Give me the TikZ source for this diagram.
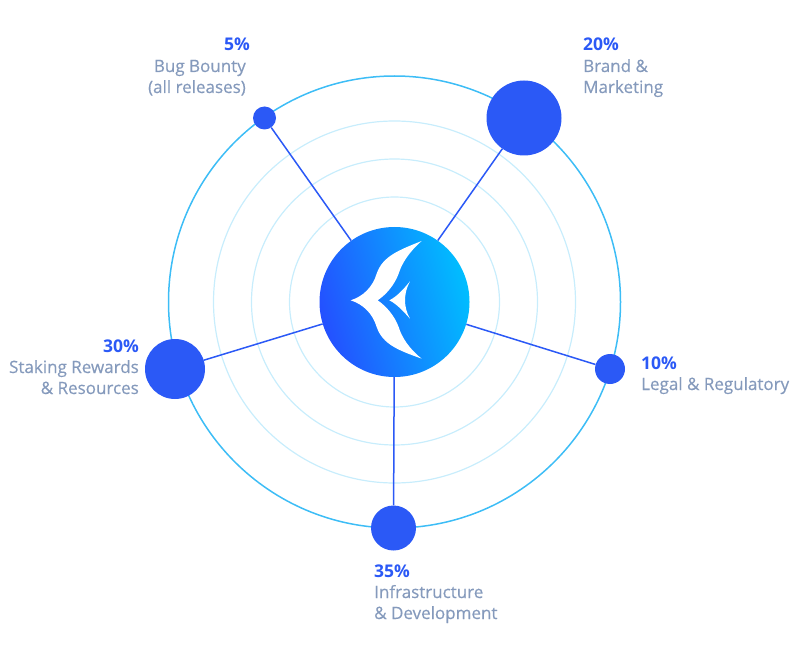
\documentclass[tikz,border=0pt]{standalone}
\usepackage{fontspec}
\setmainfont{Open Sans}
\newfontfamily\dpfont{Open Sans}[FakeBold=0.4]
\definecolor{dpblue}{HTML}{2B59F6}
\definecolor{dpgrey}{HTML}{859ABC}
\definecolor{dpring}{HTML}{3DBDF6}
\definecolor{dppale}{HTML}{C8EDFC}
\definecolor{dpleft}{HTML}{2450FF}
\definecolor{dpright}{HTML}{00BEFF}
\tikzset{
  dp ring/.style={draw=dppale, line width=1.2pt},
  dp bubble/.style={circle, fill=dpblue, inner sep=0pt},
  dp link/.style={draw=dpblue, line width=1.5pt},
  dp hub/.style={circle, minimum size=150pt, inner sep=0pt, left color=dpleft, right color=dpright, shading angle=105},
  dp pct/.style={font=\fontsize{17.5}{18}\selectfont\bfseries, text=dpblue, inner sep=0pt},
  dp name/.style={font=\fontsize{17}{18}\selectfont\dpfont, text=dpgrey, inner sep=0pt}
}
\begin{document}
\begin{tikzpicture}[x=1pt, y=-1pt]
  \useasboundingbox (0,0) rectangle (810,660);
  % rings
  \foreach \r in {105,143,181} {
    \draw[dp ring] (394.5,302) circle (\r pt);
  }
  \draw[draw=dpring, line width=1.5pt] (394.5,302) circle (226pt);
  % hub and bubbles
  \node[dp hub] (hub) at (394.5,302) {};
  \foreach \name/\x/\y/\d in {bug/264.5/118/23,brand/524/118/75,legal/610/369/30,infra/393.5/528/45,staking/175/369/60} {
    \node[dp bubble, minimum size=\d pt] (\name) at (\x,\y) {};
    \draw[dp link] (hub) -- (\name);
  }
  % logo
  \begin{scope}[shift={(310,217)}, x=0.3333pt, y=-0.3333pt]
    \fill[white] (122,250) .. controls (160,238) and (188,210) .. (200,170)
      .. controls (218,118) and (265,100) .. (335,72)
      .. controls (297,105) and (275,140) .. (266,170)
      .. controls (253,205) and (228,233) .. (203,250)
      .. controls (228,267) and (253,295) .. (266,330)
      .. controls (275,360) and (297,395) .. (335,425)
      .. controls (265,400) and (218,382) .. (200,330)
      .. controls (188,290) and (160,262) .. (122,250) -- cycle;
    \fill[white] (238,250) .. controls (262,238) and (282,215) .. (300,193)
      .. controls (280,230) and (280,270) .. (300,305)
      .. controls (282,285) and (262,262) .. (238,250) -- cycle;
  \end{scope}
  % labels
  \node[dp pct, anchor=base east] (bugpct) at (250,51) {5\%};
  \node[dp name, anchor=base east] (bugname) at (246,72) {Bug Bounty};
  \node[dp name, anchor=base east] (bugnote) at (246,93) {(all releases)};
  \node[dp pct, anchor=base west] (brandpct) at (583,51) {20\%};
  \node[dp name, anchor=base west] (brandname) at (583,72) {Brand \&};
  \node[dp name, anchor=base west] (brandnote) at (583,93) {Marketing};
  \node[dp pct, anchor=base west] (legalpct) at (641,369) {10\%};
  \node[dp name, anchor=base west] (legalname) at (641,390) {Legal \& Regulatory};
  \node[dp pct, anchor=base west] (infrapct) at (374,577) {35\%};
  \node[dp name, anchor=base west] (infraname) at (374,598) {Infrastructure};
  \node[dp name, anchor=base west] (infranote) at (374,619) {\& Development};
  \node[dp pct, anchor=base east] (stakingpct) at (139,352) {30\%};
  \node[dp name, anchor=base east] (stakingname) at (139,373) {Staking Rewards};
  \node[dp name, anchor=base east] (stakingnote) at (139,394) {\& Resources};
\end{tikzpicture}
\end{document}
